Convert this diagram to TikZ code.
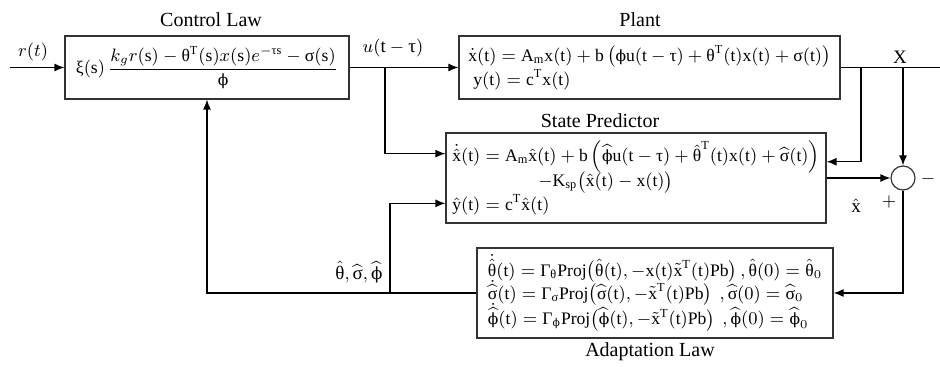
\documentclass[tikz,border=0pt]{standalone}
\usepackage{amsmath}
\usepackage{fontspec}
\setmainfont{Liberation Serif}
\newfontfamily\phifont{DejaVu Serif}[Scale=0.88]
\usetikzlibrary{arrows.meta,positioning,calc}

\newcommand{\gth}{\text{θ}}
\newcommand{\gsg}{\text{σ}}
\newcommand{\gph}{\text{\phifont ϕ}}
\newcommand{\gta}{\text{τ}}
\newcommand{\gxi}{\text{ξ}}
\newcommand{\gGa}{\text{Γ}}

\begin{document}
\begin{tikzpicture}[
  x=0.5pt, y=-0.5pt,
  >={Latex[length=5pt,width=4pt]},
  block/.style={draw=black!80, line width=0.6pt, minimum height=31.5pt, inner sep=2pt,
    font=\fontsize{8.8pt}{10.5pt}\selectfont},
  title/.style={font=\normalsize},
  lbl/.style={inner sep=1pt, font=\fontsize{9.5pt}{11pt}\selectfont},
  sig/.style={line width=0.6pt},
  sumnode/.style={draw=black!80, circle, minimum size=12pt, inner sep=0pt, line width=0.6pt}
]
\useasboundingbox (0,0) rectangle (940,367);

% blocks
\node[block, minimum width=142pt] (ctrl) at (207,67.5)
  {$\gxi(\mathrm s)\,\dfrac{k_g r(\mathrm s) - \gth^{\mathrm T}(\mathrm s)x(\mathrm s)e^{-\gta\mathrm s} - \gsg(\mathrm s)}{\gph}$};
\node[block, minimum width=190.5pt, align=left] (plant) at (649.5,67.5)
  {$\dot{\mathrm x}(\mathrm t) = \mathrm{A_m x(t) + b}\left(\gph\mathrm{u(t} - \gta) + \gth^{\mathrm T}\mathrm{(t)x(t)} + \gsg\mathrm{(t)}\right)$\\
   \hspace*{2.5pt}$\mathrm{y(t)} = \mathrm{c^T x(t)}$};
\node[block, minimum width=190pt, minimum height=45pt, align=left] (pred) at (636,178)
  {$\dot{\hat{\mathrm x}}(\mathrm t) = \mathrm{A_m}\hat{\mathrm x}\mathrm{(t) + b}\left(\widehat{\gph}\mathrm{u(t} - \gta) + \hat{\gth}^{\mathrm T}\mathrm{(t)x(t)} + \widehat{\gsg}\mathrm{(t)}\right)$\\[-2pt]
   \hspace*{43pt}$-\mathrm{K_{sp}}\big(\hat{\mathrm x}\mathrm{(t)} - \mathrm{x(t)}\big)$\\[0pt]
   $\hat{\mathrm y}\mathrm{(t)} = \mathrm{c^T}\hat{\mathrm x}\mathrm{(t)}$};
\node[block, minimum width=178pt, minimum height=45pt, align=left] (adapt) at (655,293)
  {$\dot{\hat{\gth}}(\mathrm t) = \gGa_{\gth}\mathrm{Proj}\big(\hat{\gth}(\mathrm t), -\mathrm{x(t)}\tilde{\mathrm x}^{\mathrm T}\mathrm{(t)Pb}\big)\,,\hat{\gth}(0) = \hat{\gth}_0$\\[-2pt]
   $\dot{\widehat{\gsg}}(\mathrm t) = \gGa_{\gsg}\mathrm{Proj}\big(\widehat{\gsg}(\mathrm t), -\tilde{\mathrm x}^{\mathrm T}\mathrm{(t)Pb}\big)\ \,,\widehat{\gsg}(0) = \widehat{\gsg}_0$\\[-2pt]
   $\dot{\widehat{\gph}}(\mathrm t) = \gGa_{\gph}\mathrm{Proj}\big(\widehat{\gph}(\mathrm t), -\tilde{\mathrm x}^{\mathrm T}\mathrm{(t)Pb}\big)\ \,,\widehat{\gph}(0) = \widehat{\gph}_0$};
\node[sumnode] (sum) at (903,178) {};

% titles
\node[title] (ctrltitle) at (211,20) {Control Law};
\node[title] (planttitle) at (640,20) {Plant};
\node[title] (predtitle) at (600,121) {State Predictor};
\node[title] (adapttitle) at (650,352) {Adaptation Law};

% labels
\node[lbl] (rlbl) at (33,52) {$r(t)$};
\node[lbl] (ulbl) at (393,48) {$u(\mathrm t - \gta)$};
\node[lbl] (xlbl) at (900,57) {$\mathrm X$};
\node[lbl] (xhatlbl) at (856,206) {$\hat{\mathrm x}$};
\node[lbl] (pluslbl) at (889,202) {$+$};
\node[lbl] (minuslbl) at (928,179) {$-$};
\node[lbl] (estlbl) at (359,272) {$\hat{\gth},\widehat{\gsg},\widehat{\gph}$};

% branch points
\coordinate (rin) at (10,67.5);
\coordinate (ubr) at (385,67.5);
\coordinate (xbr) at (861,67.5);
\coordinate (sbr) at (903,67.5);
\coordinate (xout) at (940,67.5);
\coordinate (tbr) at (390,293);

% connectors
\draw[sig, ->] (rin) -- (ctrl.west);
\draw[sig, ->] (ctrl.east) -- (plant.west);
\draw[sig] (plant.east) -- (xout);
\draw[sig, ->] (ubr) |- ($(pred.north west)!0.233!(pred.south west)$);
\draw[sig, ->] (xbr) |- ($(pred.north east)!0.322!(pred.south east)$);
\draw[sig, ->] (sbr) -- (sum.north);
\draw[sig, ->] (pred.east) -- (sum.west);
\draw[sig, ->] (sum.south) |- (adapt.east);
\draw[sig, ->] (adapt.west) -| (ctrl.south);
\draw[sig, ->] (tbr) |- ($(pred.north west)!0.778!(pred.south west)$);

\end{tikzpicture}
\end{document}
